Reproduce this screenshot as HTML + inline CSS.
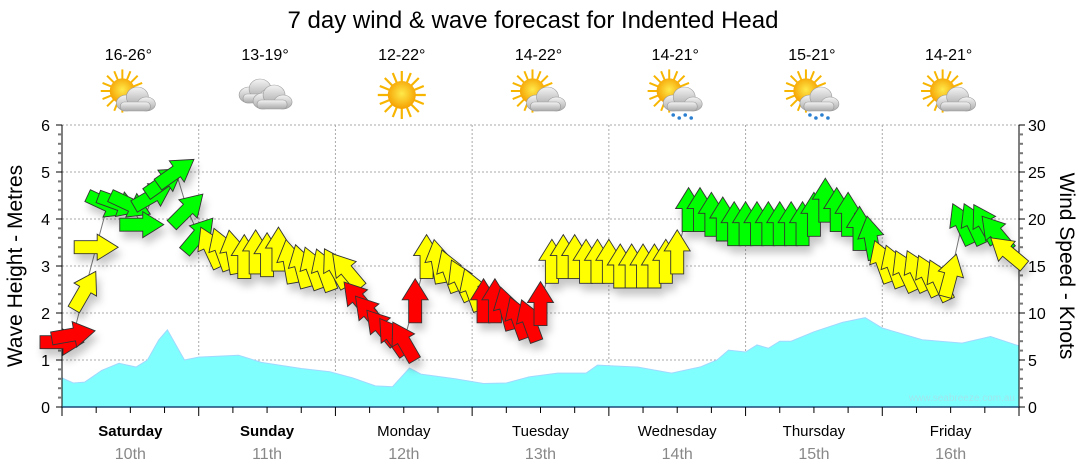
<!DOCTYPE html>
<html><head><meta charset="utf-8"><style>
html,body{margin:0;padding:0;background:#fff;}
svg{display:block;font-family:"Liberation Sans",sans-serif;}
</style></head><body>
<svg id="chart" width="1080" height="475" viewBox="0 0 1080 475" xmlns="http://www.w3.org/2000/svg">
<defs>
<filter id="sh" x="-50%" y="-50%" width="200%" height="200%"><feDropShadow dx="3" dy="7" stdDeviation="4" flood-color="#000" flood-opacity="0.22"/></filter>
<radialGradient id="sunG" cx="50%" cy="45%" r="55%"><stop offset="0" stop-color="#ffe94a"/><stop offset="1" stop-color="#f5a000"/></radialGradient>
<linearGradient id="cloudG" x1="0" y1="0" x2="0" y2="1"><stop offset="0" stop-color="#f4f4f4"/><stop offset="1" stop-color="#a9a9a9"/></linearGradient>
<g id="sun"><g stroke="#f7b500" stroke-width="2.2"><line x1="0" y1="-24" x2="0" y2="24"/><line x1="-24" y1="0" x2="24" y2="0"/><line x1="-17" y1="-17" x2="17" y2="17"/><line x1="-17" y1="17" x2="17" y2="-17"/><line x1="-9" y1="-22" x2="9" y2="22"/><line x1="-22" y1="-9" x2="22" y2="9"/><line x1="-9" y1="22" x2="9" y2="-22"/><line x1="-22" y1="9" x2="22" y2="-9"/></g><circle r="14" fill="url(#sunG)"/></g>
<g id="cloud"><g fill="url(#cloudG)" stroke="#999" stroke-width="0.6"><ellipse cx="-8" cy="4" rx="10" ry="8"/><ellipse cx="3" cy="-2" rx="11" ry="10"/><ellipse cx="12" cy="5" rx="9" ry="7"/><rect x="-14" y="3" width="30" height="9" rx="4"/></g></g>
</defs>
<text x="533" y="28" font-size="24" text-anchor="middle" fill="#000">7 day wind &amp; wave forecast for Indented Head</text>
<g id="grid"></g>
<g id="waves"></g>
<g id="axes"></g>
<g id="wind"></g>
<g id="days"></g>
<text x="1015" y="401" font-size="10" text-anchor="end" fill="#9fe6ec">www.seabreeze.com.au</text>
<text transform="translate(22,266) rotate(-90)" font-size="21" text-anchor="middle">Wave Height - Metres</text>
<text transform="translate(1060,266) rotate(90)" font-size="21" text-anchor="middle">Wind Speed - Knots</text>
</svg>
<script>
const dayNames=["Saturday","Sunday","Monday","Tuesday","Wednesday","Thursday","Friday"];
const dayDates=["10th","11th","12th","13th","14th","15th","16th"];
const dayTemps=["16-26°","13-19°","12-22°","14-22°","14-21°","15-21°","14-21°"];
const dayIcons=["suncloud","cloud","sun","suncloud","rain","rain","suncloud"];
const windSpeed=[6.9,7.7,12.4,17,21.5,21.6,21.5,19.4,22.5,24,25,21,18.3,
17,16.8,16.5,16,16.5,16.2,16.8,15.5,15,14.8,14.6,14.8,
14.5,11.5,10,8.5,7.5,7,11.3,16,15.5,14.5,13.5,12.5,
11.3,11.3,10.5,9.5,9.2,11,15.5,16,16,15.5,15.5,15.5,
15,15,15,15,15.5,16.5,21,21,20.5,20,19.5,19.5,
19.5,19.5,19.5,19.5,19.5,20.5,22,21,20.5,19,18,15.5,
15,14.5,14.5,14,13.5,14,19.5,19.5,19.5,18.5,16.5];
const windDir=[90,80,30,90,115,110,115,90,60,55,55,45,40,
-25,-20,-10,0,0,0,0,-10,-15,-20,-20,-30,
-40,-40,-40,-40,-35,-30,0,0,-10,-20,-25,-20,
0,0,-15,-20,-20,0,0,0,0,0,0,0,
0,0,0,0,0,0,0,0,0,0,0,0,
0,0,0,0,0,0,0,0,0,0,-10,-20,
-20,-25,-25,-25,-25,15,-25,-25,-30,-40,-50];
const waveHours=[0,2,4,7,10,13,15,17,18.5,21.5,24,31,35,42,47,51,55,58,61,63,69,74,78,82,87,92,94,101,107,112,115,117,120,122,124,126,128,132,137,141,144,151,158,163,168];
const waveHeights=[0.62,0.51,0.53,0.78,0.93,0.85,1.0,1.43,1.64,1.0,1.06,1.1,0.95,0.82,0.75,0.62,0.45,0.43,0.83,0.7,0.6,0.5,0.51,0.64,0.72,0.72,0.89,0.85,0.72,0.85,1.0,1.21,1.17,1.32,1.25,1.4,1.4,1.6,1.8,1.9,1.68,1.43,1.36,1.5,1.3];

const NS="http://www.w3.org/2000/svg";
const X0=62,X1=1019,Y0=407,YT=125;
const xH=h=>X0+(X1-X0)*h/168;
const yM=m=>Y0-(Y0-YT)*m/6;
const yK=k=>Y0-(Y0-YT)*k/30;
function mk(tag,attrs,parent,text){const e=document.createElementNS(NS,tag);for(const k in attrs)e.setAttribute(k,attrs[k]);if(text!==undefined)e.textContent=text;parent.appendChild(e);return e;}
const grid=document.getElementById('grid'),axes=document.getElementById('axes'),waves=document.getElementById('waves'),wind=document.getElementById('wind'),days=document.getElementById('days'),svg=document.getElementById('chart');
for(let m=1;m<=6;m++){const l=mk('line',{x1:X0,x2:X1,y1:yM(m),y2:yM(m),stroke:'#aaa','stroke-dasharray':'2,2','stroke-width':1},grid);

}
for(let d=1;d<7;d++){const l=mk('line',{x1:xH(d*24),x2:xH(d*24),y1:YT,y2:Y0,stroke:'#aaa','stroke-dasharray':'2,2','stroke-width':1},grid);

}
let pts=`${xH(waveHours[0])},${Y0} `;
waveHours.forEach((h,i)=>{pts+=`${xH(h)},${yM(waveHeights[i])} `;});
pts+=`${xH(waveHours[waveHours.length-1])},${Y0}`;
const wa=mk('polygon',{points:pts,fill:'#80ffff',stroke:'#a0d8ff','stroke-width':1},waves);


mk('line',{x1:X0,x2:X0,y1:YT,y2:Y0,stroke:'#000'},axes);
mk('line',{x1:X1,x2:X1,y1:YT,y2:Y0,stroke:'#000'},axes);
mk('line',{x1:X0,x2:X1,y1:Y0,y2:Y0,stroke:'#1a4a7a','stroke-width':1.5},axes);
for(let k=0;k<=30;k++){const y=yK(k);const major=k%5===0;
mk('line',{x1:X0-(major?6:4),x2:X0,y1:y,y2:y,stroke:major?'#000':'#777','stroke-width':major?1:2},axes);
mk('line',{x1:X1,x2:X1+(major?6:4),y1:y,y2:y,stroke:major?'#000':'#777','stroke-width':major?1:2},axes);
if(major){const t=mk('text',{x:X1+9,y:y+6,'font-size':16},axes,String(k));

}}
for(let m=0;m<=6;m++){const t=mk('text',{x:50,y:yM(m)+6,'font-size':16,'text-anchor':'end'},axes,String(m));

}
for(let h=0;h<=168;h+=6){mk('line',{x1:xH(h),x2:xH(h),y1:Y0,y2:Y0+(h%24===0?9:6),stroke:'#000'},axes);}
const lp=windSpeed.map((k,i)=>`${xH(i*2)},${yK(k)}`).join(' ');
mk('polyline',{points:lp,fill:'none',stroke:'#777','stroke-width':1},wind);
const ag=mk('g',{filter:'url(#sh)'},wind);
windSpeed.forEach((k,i)=>{const col=k<12?'#ff0000':(k<18?'#ffff00':'#00ff00');
const a=mk('path',{d:'M0,-22 L13,-1 L6.5,-1 L6.5,22 L-6.5,22 L-6.5,-1 L-13,-1 Z',fill:col,stroke:'#333','stroke-width':0.9,transform:`translate(${xH(i*2)},${yK(k)}) rotate(${windDir[i]})`},ag);

});
dayNames.forEach((n,i)=>{const cx=xH(i*24+12);
const t1=mk('text',{x:cx,y:436,'font-size':15,'text-anchor':'middle','font-weight':i<2?'bold':'normal'},days,n);


const t2=mk('text',{x:cx,y:459,'font-size':16,'text-anchor':'middle',fill:'#888'},days,dayDates[i]);


const t3=mk('text',{x:cx-2,y:60,'font-size':16,'text-anchor':'middle'},svg,dayTemps[i]);


const g=mk('g',{transform:`translate(${cx-2},95)`},svg);


const ic=dayIcons[i];
if(ic==='sun'){mk('use',{href:'#sun'},g);}
else if(ic==='cloud'){mk('use',{href:'#cloud',transform:'translate(-8,-4)'},g);mk('use',{href:'#cloud',transform:'translate(6,2)'},g);}
else {mk('use',{href:'#sun',transform:'translate(-6,-4) scale(0.9)'},g);mk('use',{href:'#cloud',transform:'translate(6,4)'},g);
if(ic==='rain'){for(let r=0;r<4;r++)mk('circle',{cx:-2+r*6,cy:20+(r%2)*3,r:1.8,fill:'#2a7fd0'},g);}}
});
</script>
</body></html>
